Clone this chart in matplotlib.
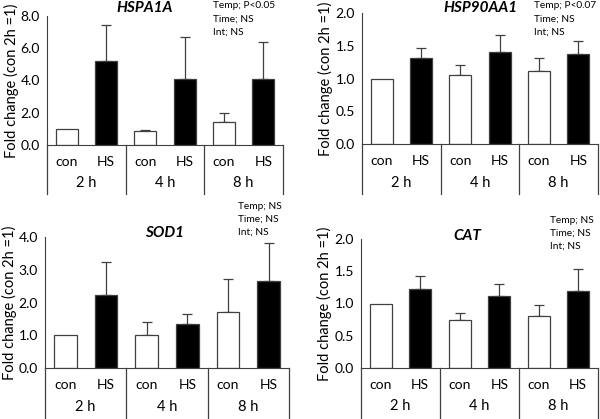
import matplotlib
matplotlib.use('Agg')
import matplotlib.pyplot as plt
import numpy as np

plt.rcParams['font.family'] = ['Lato', 'DejaVu Sans']

groups = ['2 h', '4 h', '8 h']
treatments = ['con', 'HS']

# mean values in order: con 2h, HS 2h, con 4h, HS 4h, con 8h, HS 8h
hspa1a_mean = [1.0, 5.2, 0.85, 4.1, 1.4, 4.1]
hspa1a_err = [0.0, 2.25, 0.1, 2.6, 0.6, 2.3]
hsp90_mean = [1.0, 1.32, 1.05, 1.4, 1.12, 1.37]
hsp90_err = [0.0, 0.15, 0.15, 0.26, 0.2, 0.21]
sod1_mean = [1.0, 2.22, 1.02, 1.35, 1.7, 2.67]
sod1_err = [0.0, 1.01, 0.38, 0.3, 1.02, 1.15]
cat_mean = [1.0, 1.22, 0.74, 1.11, 0.81, 1.2]
cat_err = [0.0, 0.21, 0.11, 0.19, 0.17, 0.33]

titles = ['HSPA1A', 'HSP90AA1', 'SOD1', 'CAT']
stats = [['Temp; P<0.05', 'Time; NS', 'Int; NS'],
         ['Temp; P<0.07', 'Time; NS', 'Int; NS'],
         ['Temp; NS', 'Time; NS', 'Int; NS'],
         ['Temp; NS', 'Time; NS', 'Int; NS']]
ymax = [8.0, 2.0, 4.0, 2.0]
ystep = [2.0, 0.5, 1.0, 0.5]


def panel(fig, rect, mean, err, ytop, step, title, title_xy, st, st_xy, sep_low):
    ax = fig.add_axes(rect)
    x = np.arange(6) + 0.5
    mean = np.array(mean)
    err = np.array(err)
    colors = ['white', 'black'] * 3
    ax.bar(x, mean, width=0.56, color=colors, edgecolor='#404040', linewidth=0.9, zorder=2)
    # no error bar for the reference group (con 2h = 1)
    has_err = err > 0
    ax.errorbar(x[has_err], mean[has_err], yerr=[np.zeros(has_err.sum()), err[has_err]],
                fmt='none', ecolor='#404040', elinewidth=0.9, capsize=3.5, capthick=0.9, zorder=1)
    ax.set_xlim(0, 6)
    ax.set_ylim(0, ytop)
    ticks = np.arange(0, ytop + step / 2, step)
    ax.set_yticks(ticks)
    ax.set_yticklabels(['%.1f' % t for t in ticks], fontsize=10)
    ax.tick_params(axis='y', length=0, pad=5)
    ax.set_xticks([])
    for s in ['top', 'right']:
        ax.spines[s].set_visible(False)
    ax.spines['left'].set_color('#404040')
    ax.spines['bottom'].set_color('#404040')
    ax.set_ylabel('Fold change (con 2h =1)', fontsize=10.5, labelpad=1.5)

    tr = ax.get_xaxis_transform()
    for i in range(6):
        ax.text(x[i], -0.13, treatments[i % 2], transform=tr, ha='center', va='center', fontsize=10)
    for g in range(3):
        ax.text(2 * g + 1, -0.295, groups[g], transform=tr, ha='center', va='center', fontsize=10.5)
    for b in range(4):
        ax.plot([2 * b, 2 * b], [0, sep_low], transform=tr, color='#404040', lw=0.9, clip_on=False)

    ax.text(title_xy[0], title_xy[1], title, transform=fig.transFigure, ha='center', va='center',
            fontsize=11, fontweight='bold', fontstyle='italic')
    for k, line in enumerate(st):
        ax.text(st_xy[0], st_xy[1] - k * 13 / 419, line, transform=fig.transFigure,
                ha='left', va='center', fontsize=7.3)
    return ax


fig = plt.figure(figsize=(6, 4.19), dpi=100)

panel(fig, [47 / 600, 274 / 419, 236 / 600, 129 / 419], hspa1a_mean, hspa1a_err, ymax[0], ystep[0],
      titles[0], (145 / 600, 1 - 8 / 419), stats[0], (213 / 600, 1 - 6 / 419), -0.38)
panel(fig, [362 / 600, 275 / 419, 236 / 600, 131 / 419], hsp90_mean, hsp90_err, ymax[1], ystep[1],
      titles[1], (480 / 600, 1 - 8 / 419), stats[1], (534 / 600, 1 - 6 / 419), -0.38)
panel(fig, [45 / 600, 51 / 419, 244 / 600, 131 / 419], sod1_mean, sod1_err, ymax[2], ystep[2],
      titles[2], (165 / 600, 1 - 233 / 419), stats[2], (238 / 600, 1 - 206 / 419), -0.42)
panel(fig, [361 / 600, 51 / 419, 237 / 600, 129 / 419], cat_mean, cat_err, ymax[3], ystep[3],
      titles[3], (467 / 600, 1 - 236 / 419), stats[3], (550 / 600, 1 - 220 / 419), -0.4)

fig.savefig('out.png', dpi=100)
